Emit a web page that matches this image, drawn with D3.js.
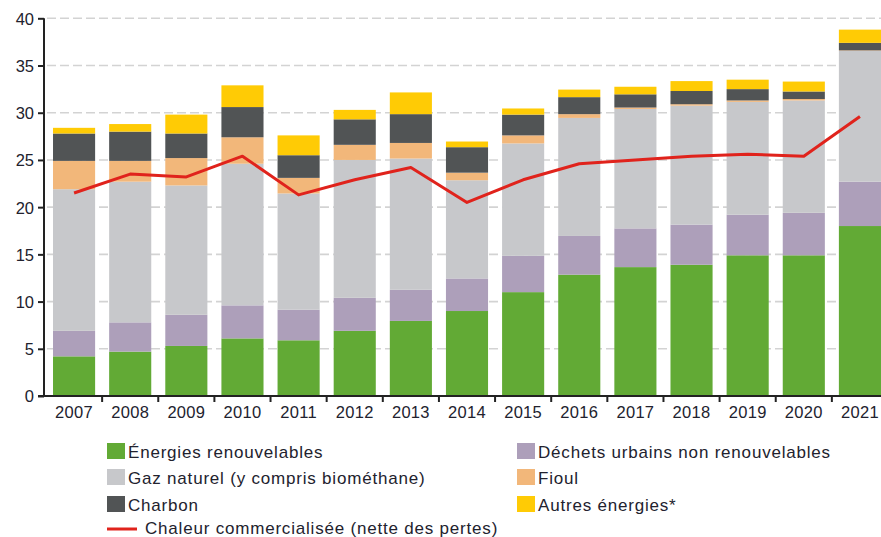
<!DOCTYPE html>
<html>
<head>
<meta charset="utf-8">
<script src="https://cdn.jsdelivr.net/npm/d3@7"></script>
<style>
  html, body { margin: 0; padding: 0; background: #fff; }
  svg { display: block; font-family: "Liberation Sans", Arial, Helvetica, sans-serif; }
</style>
</head>
<body>
<svg id="chart" width="881" height="537"></svg>
<script>
// ---- Data ----
const years = ["2007","2008","2009","2010","2011","2012","2013","2014","2015","2016","2017","2018","2019","2020","2021"];
const renouvelables = [4.2, 4.7, 5.3, 6.1, 5.9, 6.9, 7.95, 9.0, 11.0, 12.85, 13.65, 13.9, 14.9, 14.9, 18.0];
const dechets       = [2.7, 3.1, 3.3, 3.5, 3.25, 3.5, 3.3, 3.45, 3.85, 4.1, 4.1, 4.25, 4.3, 4.5, 4.7];
const gaz           = [15.0, 14.9, 13.7, 15.0, 12.3, 14.6, 13.9, 10.4, 11.9, 12.5, 12.65, 12.6, 11.95, 11.9, 13.85];
const fioul         = [3.0, 2.2, 2.9, 2.8, 1.65, 1.6, 1.65, 0.8, 0.85, 0.4, 0.15, 0.15, 0.15, 0.15, 0.05];
const charbon       = [2.9, 3.1, 2.6, 3.2, 2.4, 2.7, 3.05, 2.7, 2.2, 1.8, 1.4, 1.4, 1.2, 0.8, 0.8];
const autres        = [0.6, 0.8, 2.0, 2.3, 2.1, 1.0, 2.3, 0.6, 0.65, 0.8, 0.8, 1.05, 1.0, 1.05, 1.4];
const chaleur       = [21.5, 23.5, 23.2, 25.4, 21.3, 22.9, 24.2, 20.5, 22.9, 24.6, 25.0, 25.4, 25.6, 25.4, 29.6];
const yTicks = [0, 5, 10, 15, 20, 25, 30, 35, 40];

const seriesKeys = ["renouvelables","dechets","gaz","fioul","charbon","autres"];
const seriesLabels = {
  renouvelables: "Énergies renouvelables",
  dechets: "Déchets urbains non renouvelables",
  gaz: "Gaz naturel (y compris biométhane)",
  fioul: "Fioul",
  charbon: "Charbon",
  autres: "Autres énergies*"
};
const colors = {
  renouvelables: "#62aa35",
  dechets: "#ad9fba",
  gaz: "#c7c8cb",
  fioul: "#f2b77a",
  charbon: "#515455",
  autres: "#ffcb05"
};
const lineColor = "#e0231c";
const lineLabel = "Chaleur commercialisée (nette des pertes)";

const table = years.map((y, i) => ({
  year: y,
  renouvelables: renouvelables[i],
  dechets: dechets[i],
  gaz: gaz[i],
  fioul: fioul[i],
  charbon: charbon[i],
  autres: autres[i]
}));

// ---- Layout ----
const svg = d3.select("#chart");
const axisX = 44;
const yScale = d3.scaleLinear().domain([0, 40]).range([396, 18.3]);
const xScale = d3.scaleBand().domain(years).range([46, 888]).paddingInner(0.25).paddingOuter(0.125);
const textColor = "#22222e";

// Gridlines
svg.append("g").selectAll("line")
  .data(yTicks.filter(d => d > 0))
  .join("line")
  .attr("x1", axisX + 3).attr("x2", 881)
  .attr("y1", d => yScale(d)).attr("y2", d => yScale(d))
  .attr("stroke", "#d3d3d3").attr("stroke-width", 1.6)
  .attr("stroke-dasharray", "9,4");

// Stacked bars
const stack = d3.stack().keys(seriesKeys)(table);
svg.append("g").selectAll("g")
  .data(stack)
  .join("g")
  .attr("fill", d => colors[d.key])
  .selectAll("rect")
  .data(d => d)
  .join("rect")
  .attr("x", d => xScale(d.data.year))
  .attr("width", xScale.bandwidth())
  .attr("y", d => yScale(d[1]))
  .attr("height", d => yScale(d[0]) - yScale(d[1]));

// Line
const line = d3.line()
  .x((d, i) => xScale(years[i]) + xScale.bandwidth() / 2)
  .y(d => yScale(d));
svg.append("path")
  .datum(chaleur)
  .attr("fill", "none")
  .attr("stroke", lineColor)
  .attr("stroke-width", 3)
  .attr("stroke-linejoin", "round")
  .attr("d", line);

// Y axis
const yAxis = d3.axisLeft(yScale).tickValues(yTicks).tickSize(6).tickPadding(4);
const gy = svg.append("g").attr("transform", `translate(${axisX},0)`).call(yAxis);
gy.select(".domain").attr("stroke", "#222").attr("stroke-width", 2).attr("d", `M0,${yScale(0)}V${yScale(40)}`);
gy.selectAll(".tick line").attr("stroke", "#222").attr("stroke-width", 2);
gy.selectAll(".tick text").attr("fill", textColor).style("font-size", "16.5px")
  .style("font-family", "'Liberation Sans', Arial, sans-serif").attr("dy", "0.36em");

// X axis
const gx = svg.append("g");
gx.append("line")
  .attr("x1", axisX - 6).attr("x2", 881)
  .attr("y1", yScale(0)).attr("y2", yScale(0))
  .attr("stroke", "#222").attr("stroke-width", 2);
gx.selectAll("line.tk")
  .data(years.slice(1))
  .join("line")
  .attr("class", "tk")
  .attr("x1", d => xScale(d) - xScale.step() * xScale.paddingInner() / 2)
  .attr("x2", d => xScale(d) - xScale.step() * xScale.paddingInner() / 2)
  .attr("y1", yScale(0)).attr("y2", yScale(0) + 6)
  .attr("stroke", "#222").attr("stroke-width", 2);
gx.selectAll("text")
  .data(years)
  .join("text")
  .attr("x", d => xScale(d) + xScale.bandwidth() / 2)
  .attr("y", 418)
  .attr("text-anchor", "middle")
  .attr("fill", textColor)
  .style("font-size", "16.5px")
  .style("letter-spacing", "0.3px")
  .text(d => d);

// Legend
const legendItems = [
  { key: "renouvelables", col: 0, row: 0 },
  { key: "dechets", col: 1, row: 0 },
  { key: "gaz", col: 0, row: 1 },
  { key: "fioul", col: 1, row: 1 },
  { key: "charbon", col: 0, row: 2 },
  { key: "autres", col: 1, row: 2 }
];
const colX = [107, 517];
const rowY = [443, 469, 496];
const lg = svg.append("g");
legendItems.forEach(it => {
  lg.append("rect")
    .attr("x", colX[it.col]).attr("y", rowY[it.row])
    .attr("width", 18).attr("height", 16)
    .attr("fill", colors[it.key]);
  lg.append("text")
    .attr("x", colX[it.col] + 21).attr("y", rowY[it.row] + 15)
    .attr("fill", textColor)
    .style("font-size", "17px")
    .style("letter-spacing", "0.8px")
    .text(seriesLabels[it.key]);
});
lg.append("line")
  .attr("x1", 107).attr("x2", 137)
  .attr("y1", 529).attr("y2", 529)
  .attr("stroke", lineColor).attr("stroke-width", 3);
lg.append("text")
  .attr("x", 145).attr("y", 534)
  .attr("fill", textColor)
  .style("font-size", "17px")
  .style("letter-spacing", "0.8px")
  .text(lineLabel);
</script>
</body>
</html>
